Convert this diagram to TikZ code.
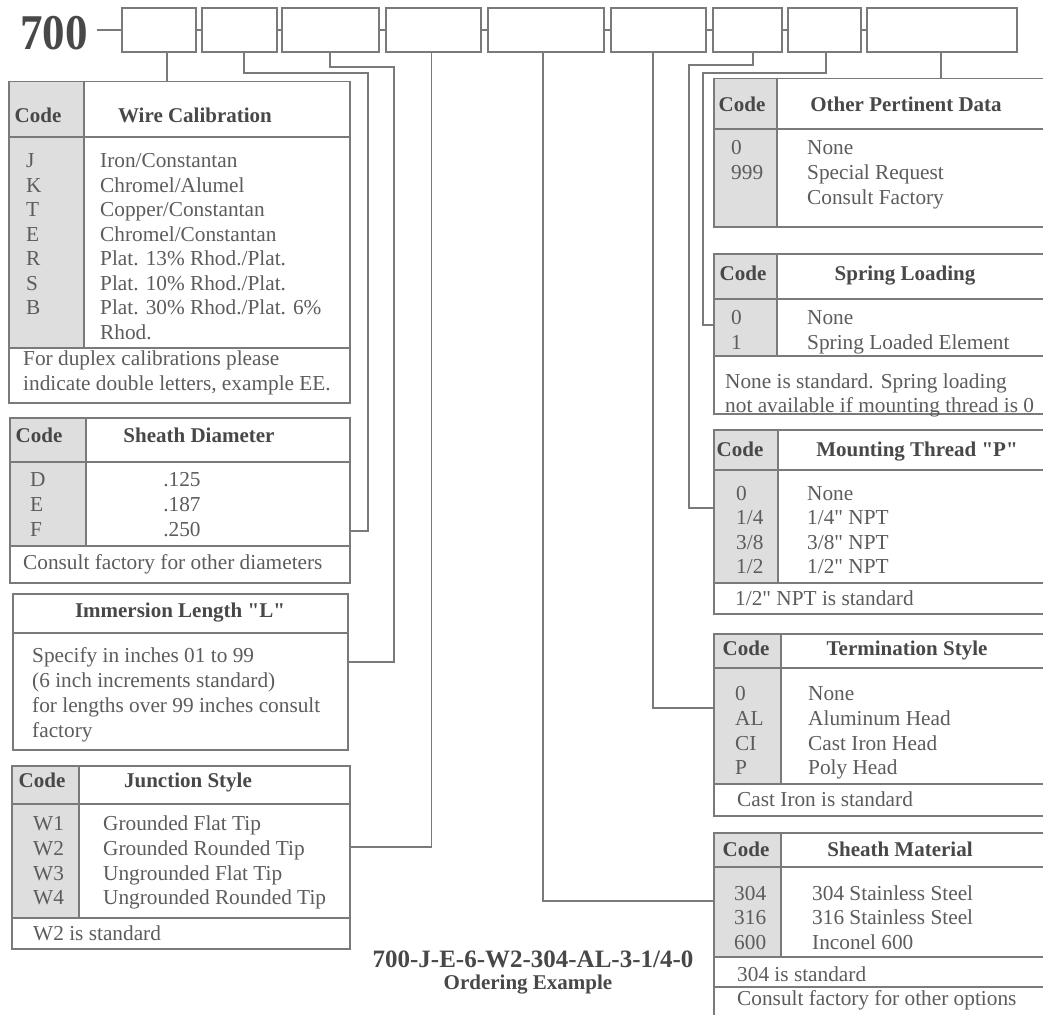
\documentclass[tikz,border=0pt]{standalone}
\usepackage{fontspec}
\setmainfont{Liberation Serif}[Ligatures=TeXOff]
\usetikzlibrary{calc}
\definecolor{lnc}{HTML}{7A7A7A}
\definecolor{txc}{HTML}{5C5C5C}
\definecolor{hdc}{HTML}{484848}
\definecolor{cfc}{HTML}{DEDEDE}
\tikzset{
  ln/.style={draw=lnc, line width=1.5pt},
  bx/.style={draw=lnc, line width=1.5pt, rectangle, inner sep=0pt, minimum height=44pt},
  tb/.style={draw=lnc, line width=1.5pt, rectangle, inner sep=0pt, anchor=north west},
  tx/.style={text=txc, font=\fontsize{21.3}{24.5}\selectfont, inner sep=0pt, anchor=base west},
  txm/.style={tx, anchor=base},
  hd/.style={text=hdc, font=\fontsize{21}{24.5}\selectfont\bfseries, inner sep=0pt, anchor=base},
}
\begin{document}
\begin{tikzpicture}[x=1pt,y=-1pt]
\useasboundingbox (0,0) rectangle (1043,1014);
\clip (0,0) rectangle (1043,1014);
\fill[white] (0,0) rectangle (1043,1014);

% ---------- top code boxes ----------
\node[text=hdc, font=\fontsize{50}{50}\selectfont\bfseries, inner sep=0pt, anchor=base] (n700) at (54,50) {\scalebox{0.9}[1]{700}};
\node[bx, minimum width=74pt]  (b1) at (159,30) {};
\node[bx, minimum width=75pt]  (b2) at (239.5,30) {};
\node[bx, minimum width=97pt]  (b3) at (330.5,30) {};
\node[bx, minimum width=95pt]  (b4) at (433.5,30) {};
\node[bx, minimum width=116pt] (b5) at (546,30) {};
\node[bx, minimum width=95pt]  (b6) at (658.5,30) {};
\node[bx, minimum width=69pt]  (b7) at (747.5,30) {};
\node[bx, minimum width=73pt]  (b8) at (824.5,30) {};
\node[bx, minimum width=150pt] (b9) at (942,30) {};
\coordinate (d0) at (97,30);
\draw[ln] (d0) -- (b1.west);
\draw[ln] (b1.east) -- (b2.west);
\draw[ln] (b2.east) -- (b3.west);
\draw[ln] (b3.east) -- (b4.west);
\draw[ln] (b4.east) -- (b5.west);
\draw[ln] (b5.east) -- (b6.west);
\draw[ln] (b6.east) -- (b7.west);
\draw[ln] (b7.east) -- (b8.west);
\draw[ln] (b8.east) -- (b9.west);

% ---------- code column fills ----------
\fill[cfc] (8,81) rectangle (84,348);
\fill[cfc] (9,417) rectangle (86,546);
\fill[cfc] (11,765) rectangle (79,918);
\fill[cfc] (713,78) rectangle (777,226);
\fill[cfc] (713,253) rectangle (777,356);
\fill[cfc] (713,429) rectangle (778,583);
\fill[cfc] (713,633) rectangle (781,784);
\fill[cfc] (713,832) rectangle (781,957);

% ---------- tables ----------
\node[tb, minimum width=341pt, minimum height=321pt] (wc) at (8,81) {};
\draw[ln] (8,137) -- (349,137);
\draw[ln] (84,81) -- (84,348);
\draw[ln] (8,348) -- (349,348);

\node[tb, minimum width=340pt, minimum height=165pt] (sd) at (9,417) {};
\draw[ln] (9,462) -- (349,462);
\draw[ln] (86,417) -- (86,546);
\draw[ln] (9,546) -- (349,546);

\node[tb, minimum width=335pt, minimum height=156pt] (il) at (12,593) {};
\draw[ln] (12,633) -- (347,633);

\node[tb, minimum width=338pt, minimum height=183pt] (js) at (11,765) {};
\draw[ln] (11,804) -- (349,804);
\draw[ln] (79,765) -- (79,918);
\draw[ln] (11,918) -- (349,918);

\node[tb, minimum width=360pt, minimum height=148pt] (op) at (713,78) {};
\draw[ln] (713,129) -- (1073,129);
\draw[ln] (777,78) -- (777,226);

\node[tb, minimum width=360pt, minimum height=160pt] (sl) at (713,253) {};
\draw[ln] (713,299) -- (1073,299);
\draw[ln] (777,253) -- (777,356);
\draw[ln] (713,356) -- (1073,356);

\node[tb, minimum width=360pt, minimum height=184pt] (mt) at (713,429) {};
\draw[ln] (713,470) -- (1073,470);
\draw[ln] (778,429) -- (778,583);
\draw[ln] (713,583) -- (1073,583);

\node[tb, minimum width=360pt, minimum height=182pt] (ts) at (713,633) {};
\draw[ln] (713,668) -- (1073,668);
\draw[ln] (781,633) -- (781,784);
\draw[ln] (713,784) -- (1073,784);

\node[tb, minimum width=360pt, minimum height=195pt] (sm) at (713,832) {};
\draw[ln] (713,867) -- (1073,867);
\draw[ln] (781,832) -- (781,957);
\draw[ln] (713,957) -- (1073,957);
\draw[ln] (713,987) -- (1073,987);

% ---------- connectors ----------
\coordinate (wcj) at (167,81);
\coordinate (k2) at (368,73);  \coordinate (sdj) at (349,531);
\coordinate (k3) at (394,67);  \coordinate (ilj) at (347,662);
\coordinate (jsj) at (349,847);
\coordinate (smj) at (713,901);
\coordinate (tsj) at (713,708);
\coordinate (k7) at (689,65);  \coordinate (mtj) at (713,508);
\coordinate (k8) at (703,73);  \coordinate (slj) at (713,325);
\coordinate (opj) at (941,78);
\draw[ln] ([xshift=8pt]b1.south) -- (wcj);
\draw[ln] ([xshift=4.5pt]b2.south) |- (k2) |- (sdj);
\draw[ln] ([xshift=-0.5pt]b3.south) |- (k3) |- (ilj);
\draw[ln] ([xshift=-2pt]b4.south) |- (jsj);
\draw[ln] ([xshift=-3pt]b5.south) |- (smj);
\draw[ln] ([xshift=-5.5pt]b6.south) |- (tsj);
\draw[ln] ([xshift=5.5pt]b7.south) |- (k7) |- (mtj);
\draw[ln] ([xshift=1.5pt]b8.south) |- (k8) |- (slj);
\draw[ln] ([xshift=-1pt]b9.south) -- (opj);

% ---------- Wire Calibration ----------
\node[hd] (wch1) at (38,122) {Code};
\node[hd] (wch2) at (195,122) {Wire Calibration};
\node[tx] (wcc1) at (26,167) {J};
\node[tx] (wcc2) at (26,192) {K};
\node[tx] (wcc3) at (26,216) {T};
\node[tx] (wcc4) at (26,241) {E};
\node[tx] (wcc5) at (26,265) {R};
\node[tx] (wcc6) at (26,290) {S};
\node[tx] (wcc7) at (26,314) {B};
\node[tx] (wcd1) at (100,167) {Iron/Constantan};
\node[tx] (wcd2) at (100,192) {Chromel/Alumel};
\node[tx] (wcd3) at (100,216) {Copper/Constantan};
\node[tx] (wcd4) at (100,241) {Chromel/Constantan};
\node[tx] (wcd5) at (100,265) {Plat. 13\% Rhod./Plat.};
\node[tx] (wcd6) at (100,290) {Plat. 10\% Rhod./Plat.};
\node[tx] (wcd7) at (100,314) {Plat. 30\% Rhod./Plat. 6\%};
\node[tx] (wcd8) at (100,339) {Rhod.};
\node[tx] (wcf1) at (23,365) {For duplex calibrations please};
\node[tx] (wcf2) at (23,390) {indicate double letters, example EE.};

% ---------- Sheath Diameter ----------
\node[hd] (sdh1) at (39,442) {Code};
\node[hd] (sdh2) at (199,442) {Sheath Diameter};
\node[tx] (sdc1) at (30,486) {D};
\node[tx] (sdc2) at (30,511) {E};
\node[tx] (sdc3) at (30,536) {F};
\node[txm] (sdd1) at (182,486) {.125};
\node[txm] (sdd2) at (182,511) {.187};
\node[txm] (sdd3) at (182,536) {.250};
\node[tx] (sdf1) at (23,569) {Consult factory for other diameters};

% ---------- Immersion Length ----------
\node[hd] (ilh1) at (180,617) {Immersion Length "L"};
\node[tx] (ild1) at (32,662) {Specify in inches 01 to 99};
\node[tx] (ild2) at (32,687) {(6 inch increments standard)};
\node[tx] (ild3) at (32,712) {for lengths over 99 inches consult};
\node[tx] (ild4) at (32,737) {factory};

% ---------- Junction Style ----------
\node[hd] (jsh1) at (42,787) {Code};
\node[hd] (jsh2) at (188,787) {Junction Style};
\node[tx] (jsc1) at (33,830) {W1};
\node[tx] (jsc2) at (33,855) {W2};
\node[tx] (jsc3) at (33,880) {W3};
\node[tx] (jsc4) at (33,904) {W4};
\node[tx] (jsd1) at (103,830) {Grounded Flat Tip};
\node[tx] (jsd2) at (103,855) {Grounded Rounded Tip};
\node[tx] (jsd3) at (103,880) {Ungrounded Flat Tip};
\node[tx] (jsd4) at (103,904) {Ungrounded Rounded Tip};
\node[tx] (jsf1) at (33,940) {W2 is standard};

% ---------- Other Pertinent Data ----------
\node[hd] (oph1) at (742,112) {Code};
\node[hd] (oph2) at (906,112) {Other Pertinent Data};
\node[tx] (opc1) at (731,154) {0};
\node[tx] (opc2) at (731,179) {999};
\node[tx] (opd1) at (807,154) {None};
\node[tx] (opd2) at (807,179) {Special Request};
\node[tx] (opd3) at (807,204) {Consult Factory};

% ---------- Spring Loading ----------
\node[hd] (slh1) at (743,280) {Code};
\node[hd] (slh2) at (905,280) {Spring Loading};
\node[tx] (slc1) at (731,324) {0};
\node[tx] (slc2) at (731,349) {1};
\node[tx] (sld1) at (807,324) {None};
\node[tx] (sld2) at (807,349) {Spring Loaded Element};
\node[tx] (slf1) at (725,388) {None is standard. Spring loading};
\node[tx] (slf2) at (725,412) {not available if mounting thread is 0};

% ---------- Mounting Thread ----------
\node[hd] (mth1) at (740,456) {Code};
\node[hd] (mth2) at (917,456) {Mounting Thread "P"};
\node[tx] (mtc1) at (736,500) {0};
\node[tx] (mtc2) at (736,524) {1/4};
\node[tx] (mtc3) at (736,549) {3/8};
\node[tx] (mtc4) at (736,573) {1/2};
\node[tx] (mtd1) at (807,500) {None};
\node[tx] (mtd2) at (807,524) {1/4" NPT};
\node[tx] (mtd3) at (807,549) {3/8" NPT};
\node[tx] (mtd4) at (807,573) {1/2" NPT};
\node[tx] (mtf1) at (735,605) {1/2" NPT is standard};

% ---------- Termination Style ----------
\node[hd] (tsh1) at (746,655) {Code};
\node[hd] (tsh2) at (907,655) {Termination Style};
\node[tx] (tsc1) at (735,700) {0};
\node[tx] (tsc2) at (735,725) {AL};
\node[tx] (tsc3) at (735,750) {CI};
\node[tx] (tsc4) at (735,774) {P};
\node[tx] (tsd1) at (808,700) {None};
\node[tx] (tsd2) at (808,725) {Aluminum Head};
\node[tx] (tsd3) at (808,750) {Cast Iron Head};
\node[tx] (tsd4) at (808,774) {Poly Head};
\node[tx] (tsf1) at (737,806) {Cast Iron is standard};

% ---------- Sheath Material ----------
\node[hd] (smh1) at (746,856) {Code};
\node[hd] (smh2) at (900,856) {Sheath Material};
\node[tx] (smc1) at (734,900) {304};
\node[tx] (smc2) at (734,924) {316};
\node[tx] (smc3) at (734,949) {600};
\node[tx] (smd1) at (812,900) {304 Stainless Steel};
\node[tx] (smd2) at (812,924) {316 Stainless Steel};
\node[tx] (smd3) at (812,949) {Inconel 600};
\node[tx] (smf1) at (737,981) {304 is standard};
\node[tx] (smf2) at (737,1005) {Consult factory for other options};

% ---------- ordering example ----------
\node[text=hdc, font=\fontsize{25}{27}\selectfont\bfseries, inner sep=0pt, anchor=base] (oe1) at (533,967) {700-J-E-6-W2-304-AL-3-1/4-0};
\node[hd] (oe2) at (528,989) {Ordering Example};
\end{tikzpicture}
\end{document}
